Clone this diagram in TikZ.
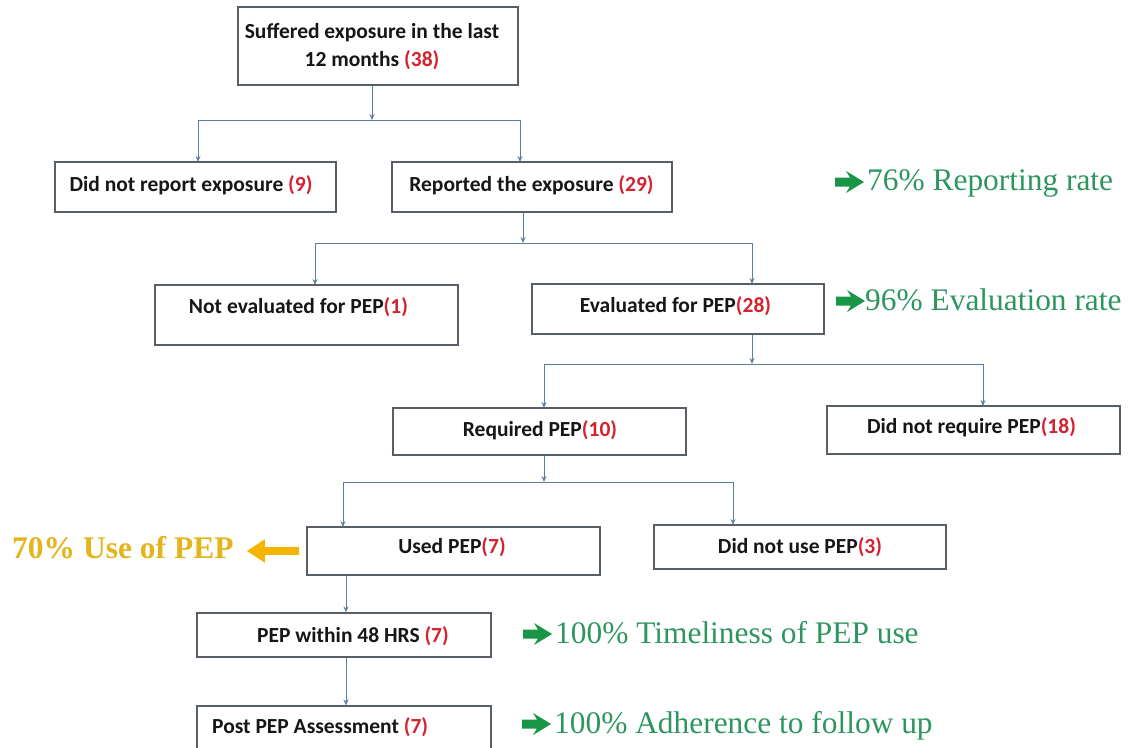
\documentclass[tikz,border=0pt]{standalone}
\usepackage{fontspec}
\setmainfont{Liberation Serif}
\newfontfamily\carlito{Carlito}
\usetikzlibrary{arrows.meta}

\definecolor{boxline}{RGB}{88,94,102}
\definecolor{wire}{RGB}{92,126,160}
\definecolor{ink}{RGB}{22,22,22}
\definecolor{countred}{RGB}{212,34,48}
\definecolor{rategreen}{RGB}{45,150,95}
\definecolor{arrowgreen}{RGB}{24,150,70}
\definecolor{usegold}{RGB}{228,180,28}
\definecolor{arrowgold}{RGB}{244,180,0}

\newcommand\cnt[1]{\textcolor{countred}{#1}}

\tikzset{
  box/.style={draw=boxline, line width=1.1pt, fill=white, inner sep=0pt},
  lbl/.style={font=\carlito\bfseries\fontsize{21.5}{28}\selectfont, text=ink, inner sep=0pt},
  conn/.style={draw=wire, line width=1pt, -{Stealth[length=6pt,width=5pt]}},
  rate/.style={font=\fontsize{31.4}{35}\selectfont, text=rategreen, inner sep=0pt, anchor=base west},
  usepep/.style={font=\bfseries\fontsize{31.5}{35}\selectfont, text=usegold, inner sep=0pt, anchor=base west},
  usearrow/.style={draw=arrowgold, line width=8pt, -{Triangle[length=18pt,width=22pt]}},
  % heavy right arrow in front of each rate
  pics/goarrow/.style={code={
    \fill[arrowgreen] (0,-4.5) -- (15,-4.5) -- (11,-11) -- (29,0) -- (11,11) -- (15,4.5) -- (0,4.5) -- cycle;
  }},
}

\begin{document}
\begin{tikzpicture}[x=1pt,y=-1pt]
\useasboundingbox (0,0) rectangle (1134,747);
\clip (0,0) rectangle (1134,747);

% ---- boxes ----
\node[box, minimum width=280pt, minimum height=78pt] (top) at (378,46) {};
\node[box, minimum width=281pt, minimum height=50pt] (a) at (195.5,187) {};
\node[box, minimum width=280pt, minimum height=50pt] (b) at (532,187) {};
\node[box, minimum width=303pt, minimum height=60pt] (c) at (306.5,315) {};
\node[box, minimum width=292pt, minimum height=50pt] (d) at (678,309) {};
\node[box, minimum width=293pt, minimum height=47pt] (e) at (539.5,431.5) {};
\node[box, minimum width=293pt, minimum height=48pt] (f) at (973.5,430) {};
\node[box, minimum width=293pt, minimum height=48pt] (g) at (453.5,551) {};
\node[box, minimum width=292pt, minimum height=44pt] (h) at (800,547) {};
\node[box, minimum width=294pt, minimum height=44pt] (i) at (344,635) {};
\node[box, minimum width=294pt, minimum height=50pt] (j) at (344,731) {};

% ---- box texts ----
\node[lbl, align=center] (top-t) at (372,47) {Suffered exposure in the last\\12 months \cnt{(38)}};
\node[lbl] (a-t) at (191,185) {Did not report exposure \cnt{(9)}};
\node[lbl] (b-t) at (531.5,185) {Reported the exposure \cnt{(29)}};
\node[lbl] (c-t) at (298.5,307) {Not evaluated for PEP\cnt{(1)}};
\node[lbl] (d-t) at (675.5,306) {Evaluated for PEP\cnt{(28)}};
\node[lbl] (e-t) at (540,430) {Required PEP\cnt{(10)}};
\node[lbl] (f-t) at (971.5,427) {Did not require PEP\cnt{(18)}};
\node[lbl] (g-t) at (452,547) {Used PEP\cnt{(7)}};
\node[lbl] (h-t) at (800,547) {Did not use PEP\cnt{(3)}};
\node[lbl] (i-t) at (353,636) {PEP within 48 HRS \cnt{(7)}};
\node[lbl, anchor=west] (j-t) at (212,727.5) {Post PEP Assessment \cnt{(7)}};

% ---- junctions and drop points ----
\coordinate (s1) at (372,120);
\coordinate (a-in) at (198,162);
\coordinate (b-in) at (520,162);
\coordinate (s2) at (523,243);
\coordinate (c-in) at (315,285);
\coordinate (d-in) at (752,284);
\coordinate (s3) at (752,364);
\coordinate (e-in) at (544,408);
\coordinate (f-in) at (983,406);
\coordinate (s4) at (544,482);
\coordinate (g-in) at (343,527);
\coordinate (h-in) at (733,525);

% ---- connectors ----
\draw[conn] (top.south -| s1) -- (s1);
\draw[conn] (s1) -| (a-in);
\draw[conn] (s1) -| (b-in);
\draw[conn] (b.south -| s2) -- (s2);
\draw[conn] (s2) -| (c-in);
\draw[conn] (s2) -| (d-in);
\draw[conn] (d.south -| s3) -- (s3);
\draw[conn] (s3) -| (e-in);
\draw[conn] (s3) -| (f-in);
\draw[conn] (e.south -| s4) -- (s4);
\draw[conn] (s4) -| (g-in);
\draw[conn] (s4) -| (h-in);
\draw[conn] ([xshift=-107.5pt]g.south) -- ([xshift=2pt]i.north);
\draw[conn] ([xshift=2pt]i.south) -- ([xshift=2pt]j.north);

% ---- rates ----
\pic at (835,182) {goarrow};
\node[rate] (r1) at (867,190) {76\% Reporting rate};
\pic at (836,301) {goarrow};
\node[rate] (r2) at (865,310) {96\% Evaluation rate};
\pic at (523,634) {goarrow};
\node[rate] (r3) at (555,643) {100\% Timeliness of PEP use};
\pic at (522,724) {goarrow};
\node[rate] (r4) at (554,733) {100\% Adherence to follow up};

% ---- use of PEP ----
\node[usepep] (use) at (12,558) {70\% Use of PEP};
\draw[usearrow] ([xshift=-7pt]g.west) -- ([xshift=13pt]g.west -| use.east);
\end{tikzpicture}
\end{document}
